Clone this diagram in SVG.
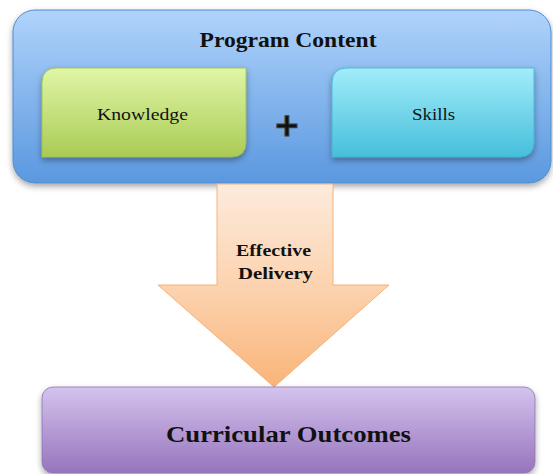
<svg xmlns="http://www.w3.org/2000/svg" width="553" height="474" viewBox="0 0 553 474">
<defs>
<linearGradient id="gBlue" x1="0" y1="0" x2="0" y2="1"><stop offset="0" stop-color="#b0d3fb"/><stop offset="1" stop-color="#5a98df"/></linearGradient>
<linearGradient id="gGreen" x1="0" y1="0" x2="0" y2="1"><stop offset="0" stop-color="#e0f6a6"/><stop offset="1" stop-color="#aacb55"/></linearGradient>
<linearGradient id="gCyan" x1="0" y1="0" x2="0" y2="1"><stop offset="0" stop-color="#a2ecfa"/><stop offset="1" stop-color="#46bfdb"/></linearGradient>
<linearGradient id="gOrange" x1="0" y1="0" x2="0" y2="1"><stop offset="0" stop-color="#fdebdc"/><stop offset="0.5" stop-color="#fcd3b0"/><stop offset="1" stop-color="#f9b479"/></linearGradient>
<linearGradient id="gPurple" x1="0" y1="0" x2="0" y2="1"><stop offset="0" stop-color="#d3c3ee"/><stop offset="1" stop-color="#9774bc"/></linearGradient>
<filter id="sh" x="-10%" y="-10%" width="120%" height="130%"><feDropShadow dx="0" dy="3" stdDeviation="3" flood-color="#000" flood-opacity="0.35"/></filter>
</defs>
<style>
text{font-family:"Liberation Serif","DejaVu Serif",serif;font-weight:bold;fill:#111;text-anchor:middle}
.lbl{font-weight:normal;font-size:17px}
</style>
<g id="program-content">
<rect x="13" y="10" width="538" height="173" rx="22" fill="url(#gBlue)" stroke="#4f8ad0" stroke-width="1" filter="url(#sh)"/>
<text x="288" y="47" font-size="21" textLength="177" lengthAdjust="spacingAndGlyphs">Program Content</text>
<text x="287" y="136" font-size="32" style="font-family:'DejaVu Sans',sans-serif" fill="#3a3a3a" stroke="#3a3a3a" stroke-width="1">+</text>
</g>
<g id="knowledge">
<path d="M57,68 H246 V142 Q246,157 231,157 H42 V83 Q42,68 57,68 Z" fill="url(#gGreen)" stroke="#9dbb52" stroke-width="0.8" filter="url(#sh)"/>
<text class="lbl" x="142.5" y="120" textLength="91" lengthAdjust="spacingAndGlyphs">Knowledge</text>
</g>
<g id="skills">
<path d="M347,68 H534 V142 Q534,157 519,157 H332 V83 Q332,68 347,68 Z" fill="url(#gCyan)" stroke="#3fb3cf" stroke-width="0.8" filter="url(#sh)"/>
<text class="lbl" x="433.5" y="120" textLength="43" lengthAdjust="spacingAndGlyphs">Skills</text>
</g>
<g id="connectors">
<path d="M217,184 H333 V285 H389 L274,387 L158,285 H217 Z" fill="url(#gOrange)" stroke="#f5b27a" stroke-width="1"/>
<text x="273.5" y="256" font-size="17" textLength="75" lengthAdjust="spacingAndGlyphs">Effective</text>
<text x="275.5" y="279" font-size="17" textLength="75" lengthAdjust="spacingAndGlyphs">Delivery</text>
</g>
<g id="curricular-outcomes">
<rect x="42" y="387" width="493" height="86" rx="11" fill="url(#gPurple)" stroke="#8f72b5" stroke-width="0.8" filter="url(#sh)"/>
<text x="288.5" y="442" font-size="24" textLength="245" lengthAdjust="spacingAndGlyphs">Curricular Outcomes</text>
</g>
</svg>
